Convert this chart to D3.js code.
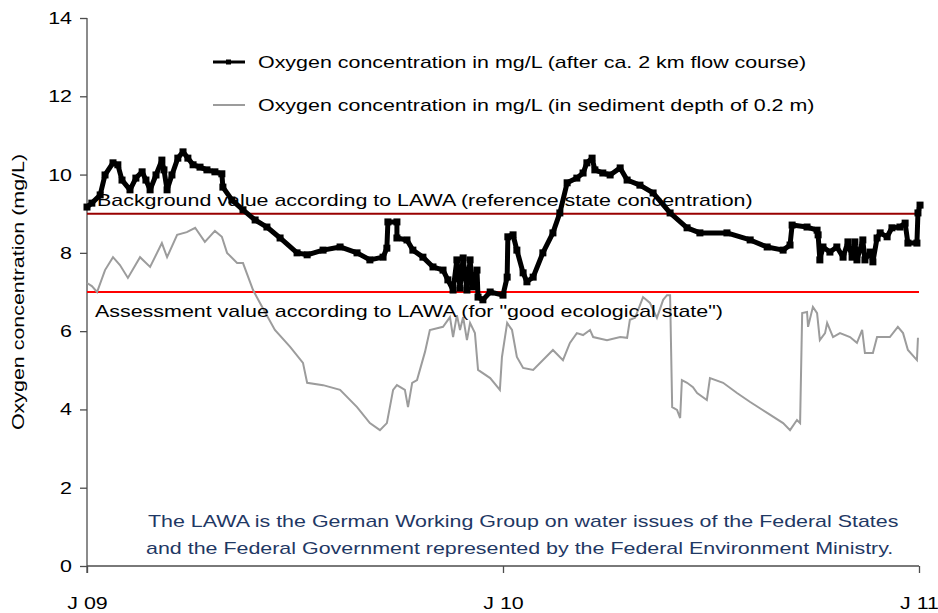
<!DOCTYPE html>
<html>
<head>
<meta charset="utf-8">
<script src="https://cdn.jsdelivr.net/npm/d3@7"></script>
<style>
  body { margin: 0; background: #fff; }
  svg { display: block; font-family: "Liberation Sans", Arial, sans-serif; }
</style>
</head>
<body>
<svg id="chart" width="938" height="613"></svg>
<script>
// x = months since Jan 2009, y = mg/L
const riverMonths = [0.00,0.14,0.38,0.52,0.75,0.89,1.01,1.24,1.41,1.59,1.70,1.82,1.99,2.16,2.22,2.31,2.45,2.62,2.77,2.91,3.06,3.26,3.46,3.69,3.89,3.92,4.18,4.50,4.85,5.19,5.57,6.06,6.35,6.81,7.30,7.79,8.16,8.54,8.65,8.68,8.94,8.94,9.23,9.40,9.69,9.98,10.27,10.41,10.56,10.67,10.76,10.85,10.96,11.05,11.13,11.25,11.28,11.42,11.63,12.00,12.12,12.14,12.29,12.40,12.58,12.69,12.87,13.15,13.44,13.64,13.85,14.13,14.31,14.42,14.57,14.65,14.88,15.09,15.38,15.58,15.95,16.33,16.82,17.31,17.68,18.46,19.13,19.62,20.08,20.28,20.34,20.77,21.06,21.09,21.14,21.23,21.43,21.63,21.81,21.95,22.07,22.15,22.21,22.38,22.44,22.59,22.67,22.79,22.88,23.08,23.22,23.45,23.60,23.68,23.94,23.97,24.03];
const riverO2 = [9.17,9.27,9.48,9.99,10.30,10.25,9.86,9.61,9.91,10.07,9.86,9.61,9.99,10.37,10.12,9.61,9.99,10.42,10.58,10.42,10.25,10.19,10.12,10.07,10.02,9.68,9.35,9.10,8.84,8.66,8.38,8.00,7.95,8.07,8.15,8.00,7.82,7.89,8.12,8.79,8.79,8.38,8.33,8.07,7.89,7.64,7.56,7.31,7.05,7.82,7.10,7.87,7.05,7.82,7.13,7.56,6.87,6.80,7.00,6.92,7.38,8.41,8.46,8.07,7.49,7.26,7.38,8.00,8.51,9.02,9.79,9.91,10.04,10.30,10.42,10.12,10.04,9.99,10.17,9.86,9.73,9.53,9.02,8.64,8.51,8.51,8.33,8.15,8.07,8.20,8.71,8.66,8.58,8.46,7.82,8.15,8.02,8.15,7.89,8.28,7.89,8.28,7.82,8.33,7.82,8.02,7.77,8.38,8.51,8.41,8.64,8.66,8.76,8.25,8.25,9.02,9.22];

const sedimentMonths = [0.00,0.14,0.29,0.52,0.75,0.95,1.18,1.53,1.82,2.16,2.31,2.60,2.88,3.12,3.40,3.69,3.89,4.04,4.33,4.50,4.79,4.99,5.42,5.86,6.23,6.35,6.81,7.30,7.79,8.16,8.45,8.65,8.83,8.94,9.17,9.26,9.38,9.52,9.75,9.89,10.27,10.47,10.56,10.67,10.76,10.85,10.96,11.05,11.19,11.28,11.63,11.91,11.97,12.12,12.26,12.40,12.58,12.87,13.44,13.73,13.93,14.13,14.31,14.51,14.60,15.00,15.38,15.58,15.66,15.81,16.04,16.24,16.44,16.62,16.73,16.82,16.88,17.02,17.11,17.16,17.31,17.48,17.60,17.88,17.97,18.35,18.75,19.13,19.62,20.08,20.28,20.48,20.57,20.63,20.77,20.80,20.94,21.06,21.14,21.29,21.35,21.52,21.72,22.01,22.21,22.36,22.44,22.67,22.79,23.16,23.39,23.54,23.68,23.94,23.97];
const sedimentO2 = [7.23,7.15,7.00,7.56,7.89,7.69,7.36,7.89,7.64,8.25,7.89,8.46,8.53,8.64,8.28,8.56,8.41,8.00,7.74,7.74,7.05,6.72,6.03,5.60,5.19,4.68,4.62,4.50,4.06,3.65,3.47,3.65,4.50,4.62,4.50,4.06,4.68,4.75,5.47,6.03,6.11,6.36,5.85,6.41,6.03,6.36,5.77,6.21,5.95,5.01,4.80,4.50,5.34,6.21,6.03,5.34,5.06,5.01,5.52,5.26,5.70,5.95,5.90,6.03,5.85,5.77,5.85,5.83,6.29,6.34,6.87,6.72,6.34,6.80,6.92,6.92,4.06,3.99,3.78,4.75,4.68,4.57,4.42,4.24,4.80,4.68,4.42,4.19,3.91,3.65,3.47,3.73,3.65,6.46,6.49,6.11,6.62,6.46,5.77,5.95,6.21,5.85,5.95,5.85,5.70,6.03,5.44,5.44,5.85,5.85,6.11,5.95,5.52,5.26,5.83];

const xTickMonths = [0, 12, 24];
const xTickLabels = ["J 09", "J 10", "J 11"];
const yTicks = [0, 2, 4, 6, 8, 10, 12, 14];

const backgroundValue = 9;
const assessmentValue = 7;

const svg = d3.select("#chart");
const M = { left: 87, right: 19, top: 18, bottom: 47 };
const W = 938, H = 613;
const FS = 17;      // font size
const STRETCH = 1.26; // source text is drawn wider than normal Arial

// widen text glyphs horizontally to match the original rendering
function stretch(sel) {
  sel.each(function() {
    const len = this.getComputedTextLength();
    d3.select(this).attr("textLength", len * STRETCH).attr("lengthAdjust", "spacingAndGlyphs");
  });
}

const x = d3.scaleLinear().domain([0, 24]).range([M.left, W - M.right]);
const y = d3.scaleLinear().domain([0, 14]).range([H - M.bottom, M.top]);

const axisColor = "#4d4d4d";

// y axis
const yAxis = svg.append("g")
  .attr("transform", `translate(${M.left},0)`)
  .call(d3.axisLeft(y).tickValues(yTicks).tickSize(7).tickPadding(8));
yAxis.select(".domain").attr("stroke", axisColor).attr("stroke-width", 1.3)
  .attr("d", `M0,${y(14)}V${y(0) + 7}`);
yAxis.selectAll(".tick line").attr("stroke", axisColor).attr("stroke-width", 1.3);
yAxis.selectAll(".tick text").attr("font-size", FS).attr("fill", "#000")
  .attr("font-family", "Liberation Sans, Arial, sans-serif").call(stretch);

// x axis
const xAxis = svg.append("g")
  .attr("transform", `translate(0,${y(0)})`)
  .call(d3.axisBottom(x).tickValues(xTickMonths).tickFormat((d, i) => xTickLabels[i]).tickSize(7).tickPadding(24));
xAxis.select(".domain").attr("stroke", axisColor).attr("stroke-width", 1.3)
  .attr("d", `M${x(0)},0H${x(24)}`);
xAxis.selectAll(".tick line").attr("stroke", axisColor).attr("stroke-width", 1.3);
xAxis.selectAll(".tick text").attr("font-size", FS).attr("fill", "#000")
  .attr("font-family", "Liberation Sans, Arial, sans-serif").call(stretch);

// y axis title
svg.append("text")
  .attr("transform", `translate(24,${(y(0) + y(14)) / 2}) rotate(-90)`)
  .attr("text-anchor", "middle")
  .attr("font-size", FS)
  .text("Oxygen concentration (mg/L)")
  .call(stretch);

// reference lines
svg.append("line")
  .attr("x1", x(0)).attr("x2", x(24))
  .attr("y1", y(backgroundValue)).attr("y2", y(backgroundValue))
  .attr("stroke", "#990000").attr("stroke-width", 2);
svg.append("line")
  .attr("x1", x(0)).attr("x2", x(24))
  .attr("y1", y(assessmentValue)).attr("y2", y(assessmentValue))
  .attr("stroke", "#ff0000").attr("stroke-width", 2);

// series
const sediment = sedimentMonths.map((m, i) => [m, sedimentO2[i]]);
const river = riverMonths.map((m, i) => [m, riverO2[i]]);
const line = d3.line().x(d => x(d[0])).y(d => y(d[1]));

svg.append("path").datum(sediment)
  .attr("d", line)
  .attr("fill", "none")
  .attr("stroke", "#9c9c9c")
  .attr("stroke-width", 2);

svg.append("path").datum(river)
  .attr("d", line)
  .attr("fill", "none")
  .attr("stroke", "#000")
  .attr("stroke-width", 5)
  .attr("stroke-linejoin", "round");

svg.append("g").selectAll("rect").data(river).join("rect")
  .attr("x", d => x(d[0]) - 3.5).attr("y", d => y(d[1]) - 3.5)
  .attr("width", 7).attr("height", 7).attr("fill", "#000");

// annotations for reference lines
svg.append("text")
  .attr("x", 97).attr("y", y(backgroundValue) - 8)
  .attr("font-size", FS)
  .text("Background value according to LAWA (reference state concentration)")
  .call(stretch);
svg.append("text")
  .attr("x", 95).attr("y", y(assessmentValue) + 25)
  .attr("font-size", FS)
  .text("Assessment value according to LAWA (for \"good ecological state\")")
  .call(stretch);

// legend
const legendItems = [
  { label: "Oxygen concentration in mg/L (after ca. 2 km flow course)", color: "#000", width: 3, marker: true },
  { label: "Oxygen concentration in mg/L (in sediment depth of 0.2 m)", color: "#9c9c9c", width: 2, marker: false }
];
const lg = svg.append("g").attr("transform", "translate(213,62)");
legendItems.forEach((it, i) => {
  const g = lg.append("g").attr("transform", `translate(0,${i * 43})`);
  g.append("line").attr("x1", 0).attr("x2", 32).attr("y1", 0).attr("y2", 0)
    .attr("stroke", it.color).attr("stroke-width", it.width);
  if (it.marker) {
    g.append("rect").attr("x", 13).attr("y", -2.5).attr("width", 5).attr("height", 5).attr("fill", it.color);
  }
  g.append("text").attr("x", 45).attr("y", 6).attr("font-size", FS).text(it.label).call(stretch);
});

// note
const note = svg.append("text").attr("font-size", FS).attr("fill", "#1f3864");
note.append("tspan").attr("x", 148).attr("y", 527)
  .text("The LAWA is the German Working Group on water issues of the Federal States");
note.append("tspan").attr("x", 146).attr("y", 554)
  .text("and the Federal Government represented by the Federal Environment Ministry.");
note.selectAll("tspan").each(function() {
  const len = this.getComputedTextLength();
  d3.select(this).attr("textLength", len * STRETCH).attr("lengthAdjust", "spacingAndGlyphs");
});
</script>
</body>
</html>
